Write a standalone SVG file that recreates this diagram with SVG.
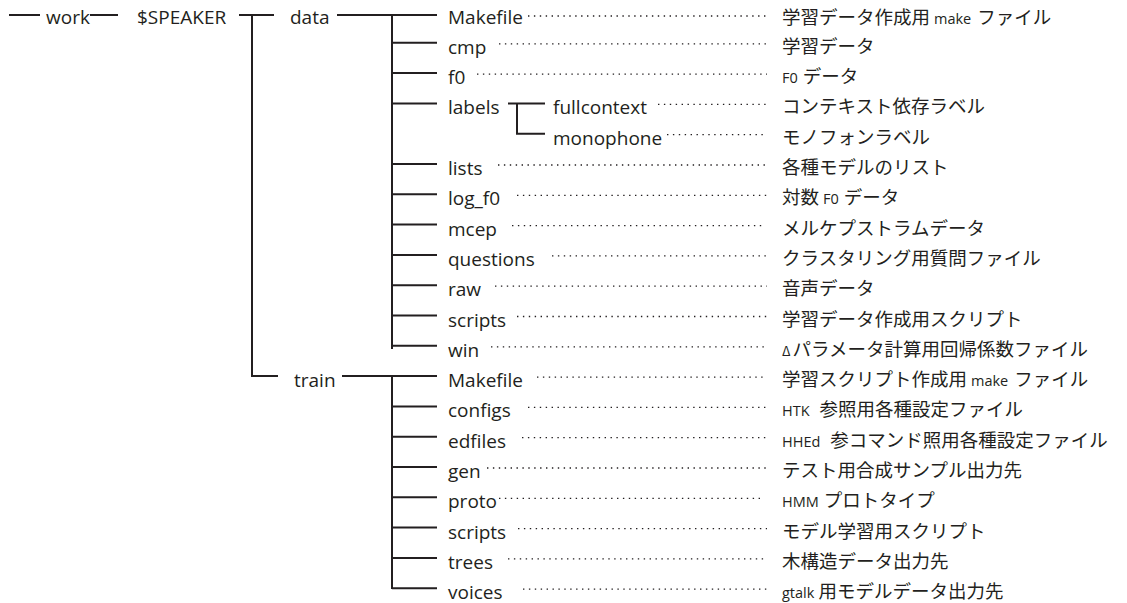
<svg xmlns="http://www.w3.org/2000/svg" width="1127" height="603" viewBox="0 0 1127 603">
<style>
.ln{stroke:#231f20;stroke-width:2;fill:none}
.dot{stroke:#231f20;stroke-width:1.3;stroke-dasharray:1.4 4.5;fill:none}
.t{font-family:"Open Sans","Noto Sans",sans-serif;font-size:19px;fill:#231f20}
.d{font-family:"Noto Sans CJK JP","Noto Sans",sans-serif;font-size:18.5px;fill:#231f20}
.s{font-family:"Open Sans","Noto Sans",sans-serif;font-size:14.5px}
.g{font-size:13px}
</style>
<rect width="1127" height="603" fill="#fff"/>
<g id="connectors">
<path class="ln" d="M9 15H40M90 15H118M239 15H274M252 15V376H278M337 15H437M392 15V349M342 376H437M392 376V589"/>
<path class="ln" d="M392 42.8H437M392 73.1H437M392 103.4H437M392 164H437M392 194.3H437M392 224.6H437M392 254.9H437M392 285.2H437M392 315.5H437M392 345.8H437"/>
<path class="ln" d="M392 406.4H437M392 436.7H437M392 467H437M392 497.3H437M392 527.6H437M392 557.9H437M392 588.2H437"/>
<path class="ln" d="M508 103.4H545M517 103.4V133.7H545"/>
<g class="dot">
<path d="M528 16H767"/>
<path d="M499 43.8H767"/>
<path d="M477 74.1H767"/>
<path d="M658 104.4H767"/>
<path d="M667 134.7H767"/>
<path d="M498 165H767"/>
<path d="M517 195.3H767"/>
<path d="M512 225.6H764"/>
<path d="M552 255.9H767"/>
<path d="M495 286.2H767"/>
<path d="M517 316.5H767"/>
<path d="M491 346.8H767"/>
<path d="M537 377.1H767"/>
<path d="M528 407.4H767"/>
<path d="M522 437.7H767"/>
<path d="M487 468H767"/>
<path d="M499 498.3H764"/>
<path d="M518 528.6H767"/>
<path d="M508 558.9H767"/>
<path d="M523 589.2H767"/>
</g>
</g>
<g id="work"><text class="t" x="46" y="24">work</text></g>
<g id="speaker"><text class="t" x="137" y="24">$SPEAKER</text></g>
<g id="data"><text class="t" x="290" y="24">data</text></g>
<g id="train"><text class="t" x="294" y="387">train</text></g>
<g id="d-makefile"><text class="t" x="448" y="24">Makefile</text><text class="d" x="782" y="24">学習データ作成用<tspan class="s" dx="4">make</tspan><tspan dx="6">ファイル</tspan></text></g>
<g id="d-cmp"><text class="t" x="448" y="53.8">cmp</text><text class="d" x="782" y="52.8">学習データ</text></g>
<g id="d-f0"><text class="t" x="448" y="84.1">f0</text><text class="d" x="782" y="83.1"><tspan class="s">F0</tspan><tspan dx="5">データ</tspan></text></g>
<g id="d-labels"><text class="t" x="448" y="114.4">labels</text></g>
<g id="d-fullcontext"><text class="t" x="553" y="114.4">fullcontext</text><text class="d" x="782" y="113.4">コンテキスト依存ラベル</text></g>
<g id="d-monophone"><text class="t" x="553" y="144.7">monophone</text><text class="d" x="782" y="143.7">モノフォンラベル</text></g>
<g id="d-lists"><text class="t" x="448" y="175">lists</text><text class="d" x="782" y="174">各種モデルのリスト</text></g>
<g id="d-logf0"><text class="t" x="448" y="205.3">log_f0</text><text class="d" x="782" y="204.3">対数<tspan class="s" dx="4">F0</tspan><tspan dx="5">データ</tspan></text></g>
<g id="d-mcep"><text class="t" x="448" y="235.6">mcep</text><text class="d" x="782" y="234.6">メルケプストラムデータ</text></g>
<g id="d-questions"><text class="t" x="448" y="265.9">questions</text><text class="d" x="782" y="264.9">クラスタリング用質問ファイル</text></g>
<g id="d-raw"><text class="t" x="448" y="296.2">raw</text><text class="d" x="782" y="295.2">音声データ</text></g>
<g id="d-scripts"><text class="t" x="448" y="326.5">scripts</text><text class="d" x="782" y="325.5">学習データ作成用スクリプト</text></g>
<g id="d-win"><text class="t" x="448" y="356.8">win</text><text class="d" x="782" y="355.8"><tspan class="g">Δ</tspan><tspan dx="2">パラメータ計算用回帰係数ファイル</tspan></text></g>
<g id="t-makefile"><text class="t" x="448" y="387.1">Makefile</text><text class="d" x="782" y="386.1">学習スクリプト作成用<tspan class="s" dx="4">make</tspan><tspan dx="6">ファイル</tspan></text></g>
<g id="t-configs"><text class="t" x="448" y="417.4">configs</text><text class="d" x="782" y="416.4"><tspan class="s">HTK</tspan><tspan dx="10">参照用各種設定ファイル</tspan></text></g>
<g id="t-edfiles"><text class="t" x="448" y="447.7">edfiles</text><text class="d" x="782" y="446.7"><tspan class="s">HHEd</tspan><tspan dx="10">参コマンド照用各種設定ファイル</tspan></text></g>
<g id="t-gen"><text class="t" x="448" y="478">gen</text><text class="d" x="782" y="477">テスト用合成サンプル出力先</text></g>
<g id="t-proto"><text class="t" x="448" y="508.3">proto</text><text class="d" x="782" y="507.3"><tspan class="s">HMM</tspan><tspan dx="5">プロトタイプ</tspan></text></g>
<g id="t-scripts"><text class="t" x="448" y="538.6">scripts</text><text class="d" x="782" y="537.6">モデル学習用スクリプト</text></g>
<g id="t-trees"><text class="t" x="448" y="568.9">trees</text><text class="d" x="782" y="567.9">木構造データ出力先</text></g>
<g id="t-voices"><text class="t" x="448" y="599.2">voices</text><text class="d" x="782" y="598.2"><tspan class="s">gtalk</tspan><tspan dx="4">用モデルデータ出力先</tspan></text></g>
</svg>
